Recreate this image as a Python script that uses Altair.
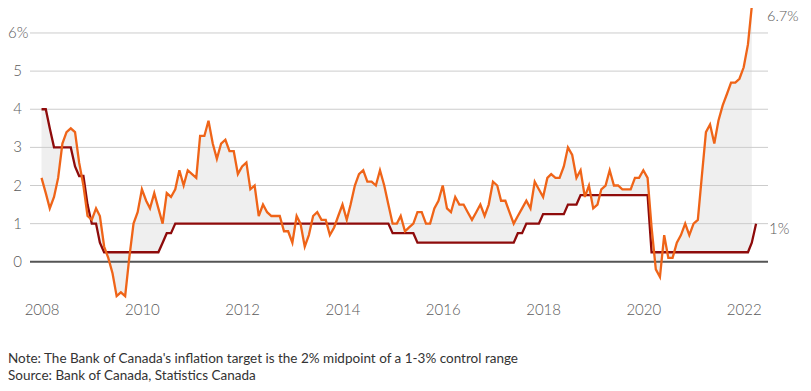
import altair as alt
import pandas as pd

# Canada CPI inflation, y/y %, Jan 2008 - Mar 2022
cpi = [
    2.2, 1.8, 1.4, 1.7, 2.2, 3.1, 3.4, 3.5, 3.4, 2.6, 2.0, 1.2,
    1.1, 1.4, 1.2, 0.4, 0.1, -0.3, -0.9, -0.8, -0.9, 0.1, 1.0, 1.3,
    1.9, 1.6, 1.4, 1.8, 1.4, 1.0, 1.8, 1.7, 1.9, 2.4, 2.0, 2.4,
    2.3, 2.2, 3.3, 3.3, 3.7, 3.1, 2.7, 3.1, 3.2, 2.9, 2.9, 2.3,
    2.5, 2.6, 1.9, 2.0, 1.2, 1.5, 1.3, 1.2, 1.2, 1.2, 0.8, 0.8,
    0.5, 1.2, 1.0, 0.4, 0.7, 1.2, 1.3, 1.1, 1.1, 0.7, 0.9, 1.2,
    1.5, 1.1, 1.5, 2.0, 2.3, 2.4, 2.1, 2.1, 2.0, 2.4, 2.0, 1.5,
    1.0, 1.0, 1.2, 0.8, 0.9, 1.0, 1.3, 1.3, 1.0, 1.0, 1.4, 1.6,
    2.0, 1.4, 1.3, 1.7, 1.5, 1.5, 1.3, 1.1, 1.3, 1.5, 1.2, 1.5,
    2.1, 2.0, 1.6, 1.6, 1.3, 1.0, 1.2, 1.4, 1.6, 1.4, 2.1, 1.9,
    1.7, 2.2, 2.3, 2.2, 2.2, 2.5, 3.0, 2.8, 2.2, 2.4, 1.7, 2.0,
    1.4, 1.5, 1.9, 2.0, 2.4, 2.0, 2.0, 1.9, 1.9, 1.9, 2.2, 2.2,
    2.4, 2.2, 0.9, -0.2, -0.4, 0.7, 0.1, 0.1, 0.5, 0.7, 1.0, 0.7,
    1.0, 1.1, 2.2, 3.4, 3.6, 3.1, 3.7, 4.1, 4.4, 4.7, 4.7, 4.8,
    5.1, 5.7, 6.7,
]

# Bank of Canada overnight rate target, month end, Jan 2008 - Apr 2022
rate = [
    4.0, 4.0, 3.5, 3.0, 3.0, 3.0, 3.0, 3.0, 2.5, 2.25, 2.25, 1.5,
    1.0, 1.0, 0.5, 0.25, 0.25, 0.25, 0.25, 0.25, 0.25, 0.25, 0.25, 0.25,
    0.25, 0.25, 0.25, 0.25, 0.25, 0.5, 0.75, 0.75, 1.0, 1.0, 1.0, 1.0,
    1.0, 1.0, 1.0, 1.0, 1.0, 1.0, 1.0, 1.0, 1.0, 1.0, 1.0, 1.0,
    1.0, 1.0, 1.0, 1.0, 1.0, 1.0, 1.0, 1.0, 1.0, 1.0, 1.0, 1.0,
    1.0, 1.0, 1.0, 1.0, 1.0, 1.0, 1.0, 1.0, 1.0, 1.0, 1.0, 1.0,
    1.0, 1.0, 1.0, 1.0, 1.0, 1.0, 1.0, 1.0, 1.0, 1.0, 1.0, 1.0,
    0.75, 0.75, 0.75, 0.75, 0.75, 0.75, 0.5, 0.5, 0.5, 0.5, 0.5, 0.5,
    0.5, 0.5, 0.5, 0.5, 0.5, 0.5, 0.5, 0.5, 0.5, 0.5, 0.5, 0.5,
    0.5, 0.5, 0.5, 0.5, 0.5, 0.5, 0.75, 0.75, 1.0, 1.0, 1.0, 1.0,
    1.25, 1.25, 1.25, 1.25, 1.25, 1.25, 1.5, 1.5, 1.5, 1.75, 1.75, 1.75,
    1.75, 1.75, 1.75, 1.75, 1.75, 1.75, 1.75, 1.75, 1.75, 1.75, 1.75, 1.75,
    1.75, 1.75, 0.25, 0.25, 0.25, 0.25, 0.25, 0.25, 0.25, 0.25, 0.25, 0.25,
    0.25, 0.25, 0.25, 0.25, 0.25, 0.25, 0.25, 0.25, 0.25, 0.25, 0.25, 0.25,
    0.25, 0.25, 0.5, 1.0,
]

y_ticks = [0, 1, 2, 3, 4, 5]
y_top_tick = [6]
grid_values = [1, 2, 3, 4, 5, 6]
x_label_years = [2008, 2010, 2012, 2014, 2016, 2018, 2020, 2022]
note_text = "Note: The Bank of Canada's inflation target is the 2% midpoint of a 1-3% control range"
source_text = "Source: Bank of Canada, Statistics Canada"

months = pd.date_range("2008-01-01", periods=len(rate), freq="MS")
df = pd.DataFrame({
    "date": months,
    "cpi": cpi + [None] * (len(rate) - len(cpi)),
    "rate": rate,
})
df_fill = df.dropna(subset=["cpi"])

ORANGE = "#ef6418"
DARKRED = "#8e0b0b"
FONT = "Lato"
LABEL_COLOR = "#5a5a5a"

xscale = alt.Scale(domain=[alt.DateTime(year=2007, month=10, date=9),
                           alt.DateTime(year=2022, month=6, date=27)])
yscale = alt.Scale(domain=[-0.95, 6.655], nice=False, zero=False)

x_axis = alt.Axis(
    values=[alt.DateTime(year=y) for y in x_label_years],
    format="%Y", title=None, grid=False, ticks=False, domain=False,
    labelFont=FONT, labelFontSize=15, labelFontWeight=300, labelColor=LABEL_COLOR,
    labelPadding=4, labelFlush=False,
)

base = alt.Chart(df)

area = alt.Chart(df_fill).mark_area(color="#efefef").encode(
    x=alt.X("date:T", scale=xscale, axis=x_axis),
    y=alt.Y("cpi:Q", scale=yscale, axis=None),
    y2="rate:Q",
)

grid = alt.Chart(pd.DataFrame({"v": grid_values})).mark_rule(
    color="#cccccc", strokeWidth=1
).encode(y=alt.Y("v:Q", scale=yscale))

zero = alt.Chart(pd.DataFrame({"v": [0]})).mark_rule(
    color="#555555", strokeWidth=2
).encode(y=alt.Y("v:Q", scale=yscale))

rate_line = base.mark_line(color=DARKRED, strokeWidth=2.3, clip=False).encode(
    x="date:T", y=alt.Y("rate:Q", scale=yscale)
)

cpi_line = alt.Chart(df_fill).mark_line(color=ORANGE, strokeWidth=2.3, clip=False).encode(
    x="date:T", y=alt.Y("cpi:Q", scale=yscale)
)

ylab = alt.Chart(pd.DataFrame({"v": y_ticks})).mark_text(
    align="right", baseline="middle", font=FONT, fontSize=15, fontWeight=300,
    color=LABEL_COLOR,
).encode(y=alt.Y("v:Q", scale=yscale), x=alt.value(-8), text=alt.Text("v:Q"))

ylab_top = alt.Chart(pd.DataFrame({"v": y_top_tick})).mark_text(
    align="left", baseline="middle", font=FONT, fontSize=15, fontWeight=300,
    color=LABEL_COLOR,
).encode(y=alt.Y("v:Q", scale=yscale), x=alt.value(-22),
         text=alt.value("6%"))

last_cpi = df_fill.tail(1).assign(lab="6.7%")
last_rate = df.tail(1).assign(lab="1%")

cpi_lab = alt.Chart(last_cpi).mark_text(
    align="left", baseline="middle", dy=11, font=FONT, fontSize=14.5, fontWeight=300,
    color=LABEL_COLOR,
).encode(y=alt.Y("cpi:Q", scale=yscale), x=alt.value(737), text="lab:N")

rate_lab = alt.Chart(last_rate).mark_text(
    align="left", baseline="middle", dy=5, font=FONT, fontSize=15, fontWeight=300,
    color=LABEL_COLOR,
).encode(y=alt.Y("rate:Q", scale=yscale), x=alt.value(739), text="lab:N")

note = alt.Chart(pd.DataFrame({"t": [note_text]})).mark_text(
    align="left", baseline="alphabetic", font=FONT, fontSize=13.5, color="#333333",
).encode(x=alt.value(-22), y=alt.value(355), text="t:N")

source = alt.Chart(pd.DataFrame({"t": [source_text]})).mark_text(
    align="left", baseline="alphabetic", font=FONT, fontSize=13.5, color="#333333",
).encode(x=alt.value(-22), y=alt.value(372), text="t:N")

chart = alt.layer(
    area, grid, zero, rate_line, cpi_line, ylab, ylab_top, cpi_lab, rate_lab, note, source
).properties(
    width=738,
    height=290,
    padding={"left": 22, "top": 0, "right": 35, "bottom": 85},
    autosize=alt.AutoSizeParams(type="none"),
).configure_view(strokeWidth=0)

chart.save("out.html", embed_options={"renderer": "svg", "actions": False})
